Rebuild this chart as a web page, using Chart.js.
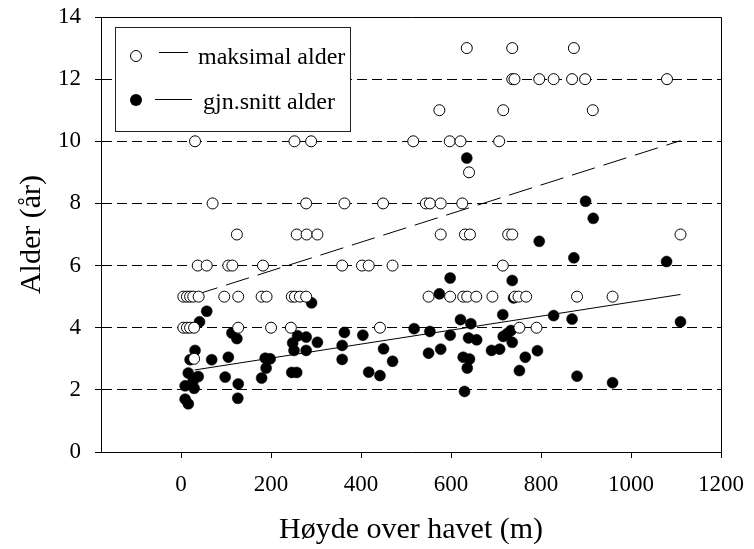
<!DOCTYPE html>
<html lang="no">
<head>
	<meta charset="UTF-8">
	<title>Alder og høyde over havet</title>
	<script src="https://cdn.jsdelivr.net/npm/chart.js@4.4.1/dist/chart.umd.min.js"></script>
	<style>
		html, body { margin: 0; padding: 0; background: #fff; }
		.box { width: 754px; height: 549px; }
	</style>
</head>
<body>
	<div class="box">
		<canvas id="myChart" width="754" height="549"></canvas>
	</div>
<script>
// maksimal alder per lokalitet (høyde i m, alder i år)
var maxHeight = [
	635, 736, 873,
	736, 741, 796, 828, 869, 898, 1080,
	574, 716, 915,
	31, 252, 289, 516, 597, 621, 707,
	640,
	70, 278, 363, 449, 544, 553, 577, 625,
	124, 257, 279, 303, 577, 631, 642, 727, 736, 1110,
	37, 57, 105, 114, 182, 358, 402, 417, 470, 715,
	5, 13, 20, 27, 39, 96, 127, 179, 190, 246, 253, 264, 278, 550, 598, 627, 636, 656, 692, 742, 750, 767, 880, 959,
	5, 13, 20, 29, 127, 200, 244, 442, 752, 790,
	29
];
var maxAge = [
	13, 13, 13,
	12, 12, 12, 12, 12, 12, 12,
	11, 11, 11,
	10, 10, 10, 10, 10, 10, 10,
	9,
	8, 8, 8, 8, 8, 8, 8, 8,
	7, 7, 7, 7, 7, 7, 7, 7, 7, 7,
	6, 6, 6, 6, 6, 6, 6, 6, 6, 6,
	5, 5, 5, 5, 5, 5, 5, 5, 5, 5, 5, 5, 5, 5, 5, 5, 5, 5, 5, 5, 5, 5, 5, 5,
	4, 4, 4, 4, 4, 4, 4, 4, 4, 4,
	3
];

// gjennomsnittsalder per lokalitet
var avgHeight = [
	635, 899, 916, 796, 873, 1079, 598, 736, 574, 739,
	290, 57, 41, 715, 621, 644, 828, 869, 1110, 518,
	553, 598, 639, 657, 733, 725, 716, 736, 550, 577,
	627, 641, 636, 690, 708, 765, 752, 630, 792, 880,
	959, 363, 358, 358, 404, 450, 470, 417, 442, 259,
	278, 303, 248, 251, 278, 187, 198, 189, 179, 246,
	257, 113, 124, 31, 20, 68, 105, 16, 38, 98,
	9, 29, 27, 127, 9, 16, 126
];
var avgAge = [
	9.46, 8.07, 7.52, 6.78, 6.25, 6.13, 5.60, 5.52, 5.09, 4.96,
	4.80, 4.53, 4.19, 4.42, 4.26, 4.13, 4.39, 4.28, 4.19, 3.97,
	3.88, 3.76, 3.67, 3.61, 3.91, 3.81, 3.72, 3.53, 3.18, 3.31,
	3.05, 2.99, 2.70, 3.27, 3.31, 3.05, 2.62, 1.95, 3.26, 2.44,
	2.23, 3.85, 3.43, 2.98, 3.76, 3.32, 2.92, 2.57, 2.46, 3.74,
	3.70, 3.53, 3.51, 3.27, 3.27, 3.02, 3.00, 2.70, 2.38, 2.56,
	2.56, 3.83, 3.65, 3.27, 2.97, 2.97, 3.05, 2.54, 2.43, 2.41,
	2.13, 2.05, 2.30, 2.19, 1.70, 1.55, 1.73
];

// regresjonslinjer (endepunkter)
var trendX = [30, 1110];
var maxTrend = [5.05, 10.02];
var avgTrend = [2.64, 5.07];

var xTicks = [0, 200, 400, 600, 800, 1000, 1200];
var yTicks = [0, 2, 4, 6, 8, 10, 12, 14];
var labels = ["maksimal alder", "gjn.snitt alder"];

function pts(xs, ys) {
	var out = [];
	for (var i = 0; i < xs.length; i++) {
		out.push({x: xs[i], y: ys[i]});
	}
	return out;
}

var serif = '"Liberation Serif", "Times New Roman", serif';

// ramme oppe og til høyre
var frame = {
	id: 'frame',
	beforeDatasetsDraw: function(chart) {
		var c = chart.ctx, a = chart.chartArea;
		var t = Math.round(a.top) + 0.5, r = Math.round(a.right) + 0.5;
		c.save();
		c.strokeStyle = '#000';
		c.lineWidth = 1;
		c.beginPath();
		c.moveTo(Math.round(a.left), t);
		c.lineTo(r, t);
		c.lineTo(r, Math.round(a.bottom) + 0.5);
		c.stroke();
		c.restore();
	}
};

// tegnforklaring i boks
var legendBox = {
	id: 'legendBox',
	afterDraw: function(chart) {
		var c = chart.ctx;
		c.save();
		c.fillStyle = '#fff';
		c.strokeStyle = '#222';
		c.lineWidth = 1;
		c.fillRect(115.5, 27.5, 235, 104);
		c.strokeRect(115.5, 27.5, 235, 104);

		c.strokeStyle = '#000';
		// rad 1
		c.beginPath();
		c.arc(136, 56, 5.5, 0, Math.PI * 2);
		c.fillStyle = '#fff';
		c.fill();
		c.stroke();
		c.beginPath();
		c.moveTo(159, 52.5);
		c.lineTo(188, 52.5);
		c.stroke();
		// rad 2
		c.beginPath();
		c.arc(136, 100, 6, 0, Math.PI * 2);
		c.fillStyle = '#000';
		c.fill();
		c.beginPath();
		c.moveTo(155, 99.5);
		c.lineTo(192, 99.5);
		c.stroke();

		c.fillStyle = '#000';
		c.font = '24px ' + serif;
		c.textAlign = 'left';
		c.textBaseline = 'alphabetic';
		c.fillText(labels[0], 198, 64);
		c.fillText(labels[1], 203, 109);
		c.restore();
	}
};

var ctx = document.getElementById("myChart");
var myChart = new Chart(ctx, {
	type: 'scatter',
	data: {
		datasets: [{
			label: labels[0],
			data: pts(maxHeight, maxAge),
			pointRadius: 5.5,
			pointBorderWidth: 1,
			pointBackgroundColor: '#fff',
			pointBorderColor: '#000',
			order: 0
		}, {
			label: labels[1],
			data: pts(avgHeight, avgAge),
			pointRadius: 5.5,
			pointBorderWidth: 0.5,
			pointBackgroundColor: '#000',
			pointBorderColor: '#000',
			order: 1
		}, {
			data: pts(trendX, maxTrend),
			showLine: true,
			pointRadius: 0,
			borderColor: '#000',
			borderWidth: 1,
			borderDash: [24, 9],
			order: 2
		}, {
			data: pts(trendX, avgTrend),
			showLine: true,
			pointRadius: 0,
			borderColor: '#000',
			borderWidth: 1,
			order: 2
		}]
	},
	options: {
		responsive: false,
		animation: false,
		layout: { padding: { top: 17, right: 33, left: 0, bottom: 0 } },
		plugins: {
			legend: { display: false },
			tooltip: { enabled: false }
		},
		scales: {
			x: {
				type: 'linear',
				min: -178,
				max: 1200,
				afterBuildTicks: function(s) {
					s.ticks = xTicks.map(function(v) { return {value: v}; });
				},
				afterFit: function(s) {
					s.height = 97;
					s.paddingLeft = 0;
					s.paddingRight = 0;
				},
				grid: {
					drawOnChartArea: false,
					drawTicks: true,
					tickLength: 6,
					color: '#000'
				},
				border: { display: true, color: '#000', width: 1 },
				ticks: {
					color: '#000',
					font: { family: serif, size: 23 },
					padding: 13,
					maxRotation: 0,
					autoSkip: false,
					callback: function(v) { return String(v); }
				},
				title: {
					display: true,
					text: 'Høyde over havet (m)',
					color: '#000',
					font: { family: serif, size: 30 },
					padding: { top: 0, bottom: 1 }
				}
			},
			y: {
				min: 0,
				max: 14,
				afterBuildTicks: function(s) {
					s.ticks = yTicks.map(function(v) { return {value: v}; });
				},
				afterFit: function(s) {
					s.width = 101;
					s.paddingTop = 0;
					s.paddingBottom = 0;
				},
				grid: {
					drawTicks: true,
					tickLength: 6,
					tickColor: '#000',
					color: function(c) {
						if (c.tick && (c.tick.value === 0 || c.tick.value === 14)) return 'rgba(0,0,0,0)';
						return '#000';
					}
				},
				border: { display: true, color: '#000', width: 1, dash: [10, 5] },
				ticks: {
					color: '#000',
					font: { family: serif, size: 23 },
					padding: 14,
					callback: function(v) { return String(v); }
				},
				title: {
					display: true,
					text: 'Alder (år)',
					color: '#000',
					font: { family: serif, size: 30 },
					padding: { top: 14, bottom: 0 }
				}
			}
		}
	},
	plugins: [frame, legendBox]
});
</script>
</body>
</html>
